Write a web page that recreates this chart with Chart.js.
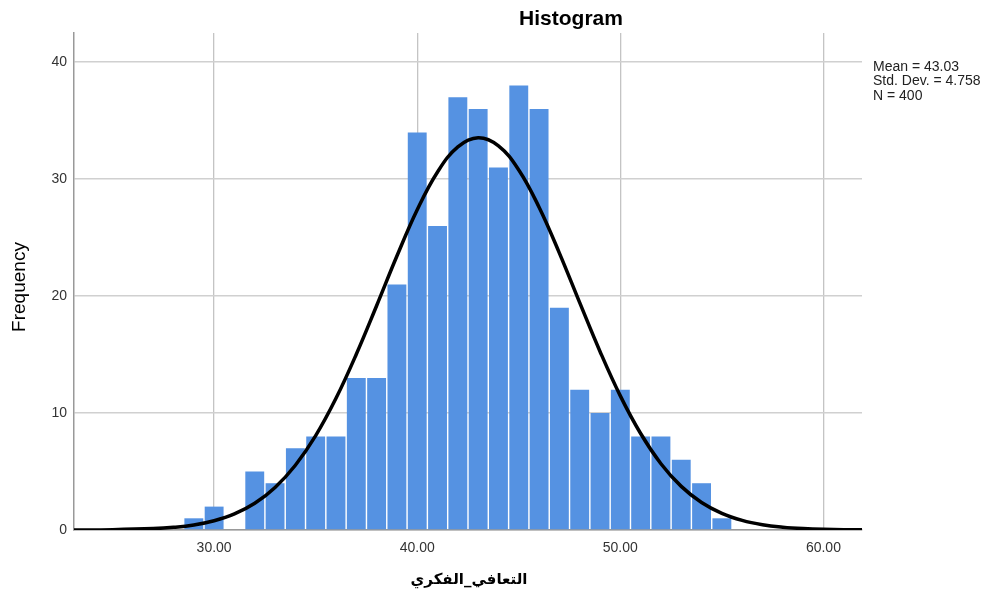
<!DOCTYPE html>
<html lang="en">
<head>
    <meta charset="UTF-8">
    <title>Histogram</title>
    <script src="https://cdn.jsdelivr.net/npm/chart.js@4.4.1/dist/chart.umd.min.js"></script>
    <style>
        html, body { margin: 0; padding: 0; background: #fff; }
        #wrap { width: 988px; height: 592px; }
    </style>
</head>
<body>
    <div id="wrap"><canvas id="hist"></canvas></div>

    <script>
        // bin centres (width 1) and counts
        const binCenters = [29, 30, 31, 32, 33, 34, 35, 36, 37, 38, 39, 40, 41, 42, 43, 44, 45, 46, 47, 48, 49, 50, 51, 52, 53, 54, 55];
        const counts = [1, 2, 0, 5, 4, 7, 8, 8, 13, 13, 21, 34, 26, 37, 36, 31, 38, 36, 19, 12, 10, 12, 8, 8, 6, 4, 1];

        // normal curve, read at whole x values
        const curveX = [23, 25, 27, 28, 29, 30, 31, 32, 33, 34, 35, 36, 37, 38, 39, 40, 41, 42, 43, 44, 45, 46, 47, 48, 49, 50, 51, 52, 53, 54, 55, 56, 57, 58, 59, 60, 62];
        const curveY = [0.0, 0.03, 0.12, 0.23, 0.43, 0.79, 1.37, 2.28, 3.64, 5.54, 8.07, 11.26, 15.03, 19.18, 23.43, 27.39, 30.62, 32.76, 33.54, 32.85, 30.79, 27.6, 23.68, 19.44, 15.27, 11.47, 8.25, 5.67, 3.73, 2.35, 1.42, 0.82, 0.45, 0.24, 0.12, 0.06, 0.01];

        const xTicks = [30, 40, 50, 60];
        const yTicks = [0, 10, 20, 30, 40];

        const statLines = ["Mean = 43.03", "Std. Dev. = 4.758", "N = 400"];
        const titleText = "Histogram";
        const xTitle = "التعافي_الفكري";
        const yTitle = "Frequency";

        const textPlugin = {
            id: 'texts',
            afterDraw(chart) {
                const ctx = chart.ctx;
                ctx.save();
                ctx.fillStyle = '#000';
                ctx.textBaseline = 'middle';

                ctx.textAlign = 'center';
                ctx.font = 'bold 21px "Liberation Sans", Arial';
                ctx.fillText(titleText, 571, 19);

                ctx.textAlign = 'left';
                ctx.fillStyle = '#222';
                ctx.font = '14px "Liberation Sans", Arial';
                statLines.forEach((s, i) => ctx.fillText(s, 873, 67 + i * 14.5));

                ctx.fillStyle = '#000';
                ctx.save();
                ctx.translate(20, 287);
                ctx.rotate(-Math.PI / 2);
                ctx.textAlign = 'center';
                ctx.font = '19px "Liberation Sans", Arial';
                ctx.fillText(yTitle, 0, 0);
                ctx.restore();

                ctx.textAlign = 'center';
                ctx.font = 'bold 15px "DejaVu Sans"';
                ctx.fillText(xTitle, 469, 580);
                ctx.restore();
            }
        };

        const pick = list => scale => {
            scale.ticks = list.map(v => ({ value: v }));
        };

        const context = document.getElementById('hist').getContext('2d');
        const chart = new Chart(context, {
            data: {
                datasets: [{
                    type: 'line',
                    data: curveX.map((x, i) => ({ x: x, y: curveY[i] })),
                    borderColor: '#000',
                    borderWidth: 3.5,
                    pointRadius: 0,
                    tension: 0.4,
                    fill: false,
                    order: 0
                }, {
                    type: 'bar',
                    data: binCenters.map((x, i) => ({ x: x, y: counts[i] })),
                    backgroundColor: '#5592e2',
                    borderWidth: 0,
                    barPercentage: 0.93,
                    categoryPercentage: 1,
                    order: 1
                }]
            },
            options: {
                responsive: true,
                maintainAspectRatio: false,
                animation: false,
                layout: { padding: { left: 0, right: 126, top: 33, bottom: 0 } },
                plugins: {
                    legend: { display: false },
                    tooltip: { enabled: false }
                },
                scales: {
                    x: {
                        type: 'linear',
                        min: 23.1,
                        max: 61.9,
                        offset: false,
                        afterBuildTicks: pick(xTicks),
                        afterFit: s => { s.height = 62; },
                        grid: { offset: false, color: '#c4c4c4', lineWidth: 1.3, drawTicks: false },
                        border: { display: true, color: '#999', width: 1.5 },
                        ticks: {
                            padding: 10,
                            color: '#333',
                            font: { family: '"Liberation Sans", Arial', size: 14 },
                            callback: v => v.toFixed(2)
                        }
                    },
                    y: {
                        min: 0,
                        max: 42.5,
                        afterBuildTicks: pick(yTicks),
                        afterFit: s => { s.width = 74; },
                        grid: { color: '#d0d0d0', lineWidth: 1.5, drawTicks: false },
                        border: { display: true, color: '#999', width: 1.5 },
                        ticks: {
                            padding: 7,
                            color: '#333',
                            font: { family: '"Liberation Sans", Arial', size: 14 }
                        }
                    }
                }
            },
            plugins: [textPlugin]
        });
    </script>
</body>
</html>
